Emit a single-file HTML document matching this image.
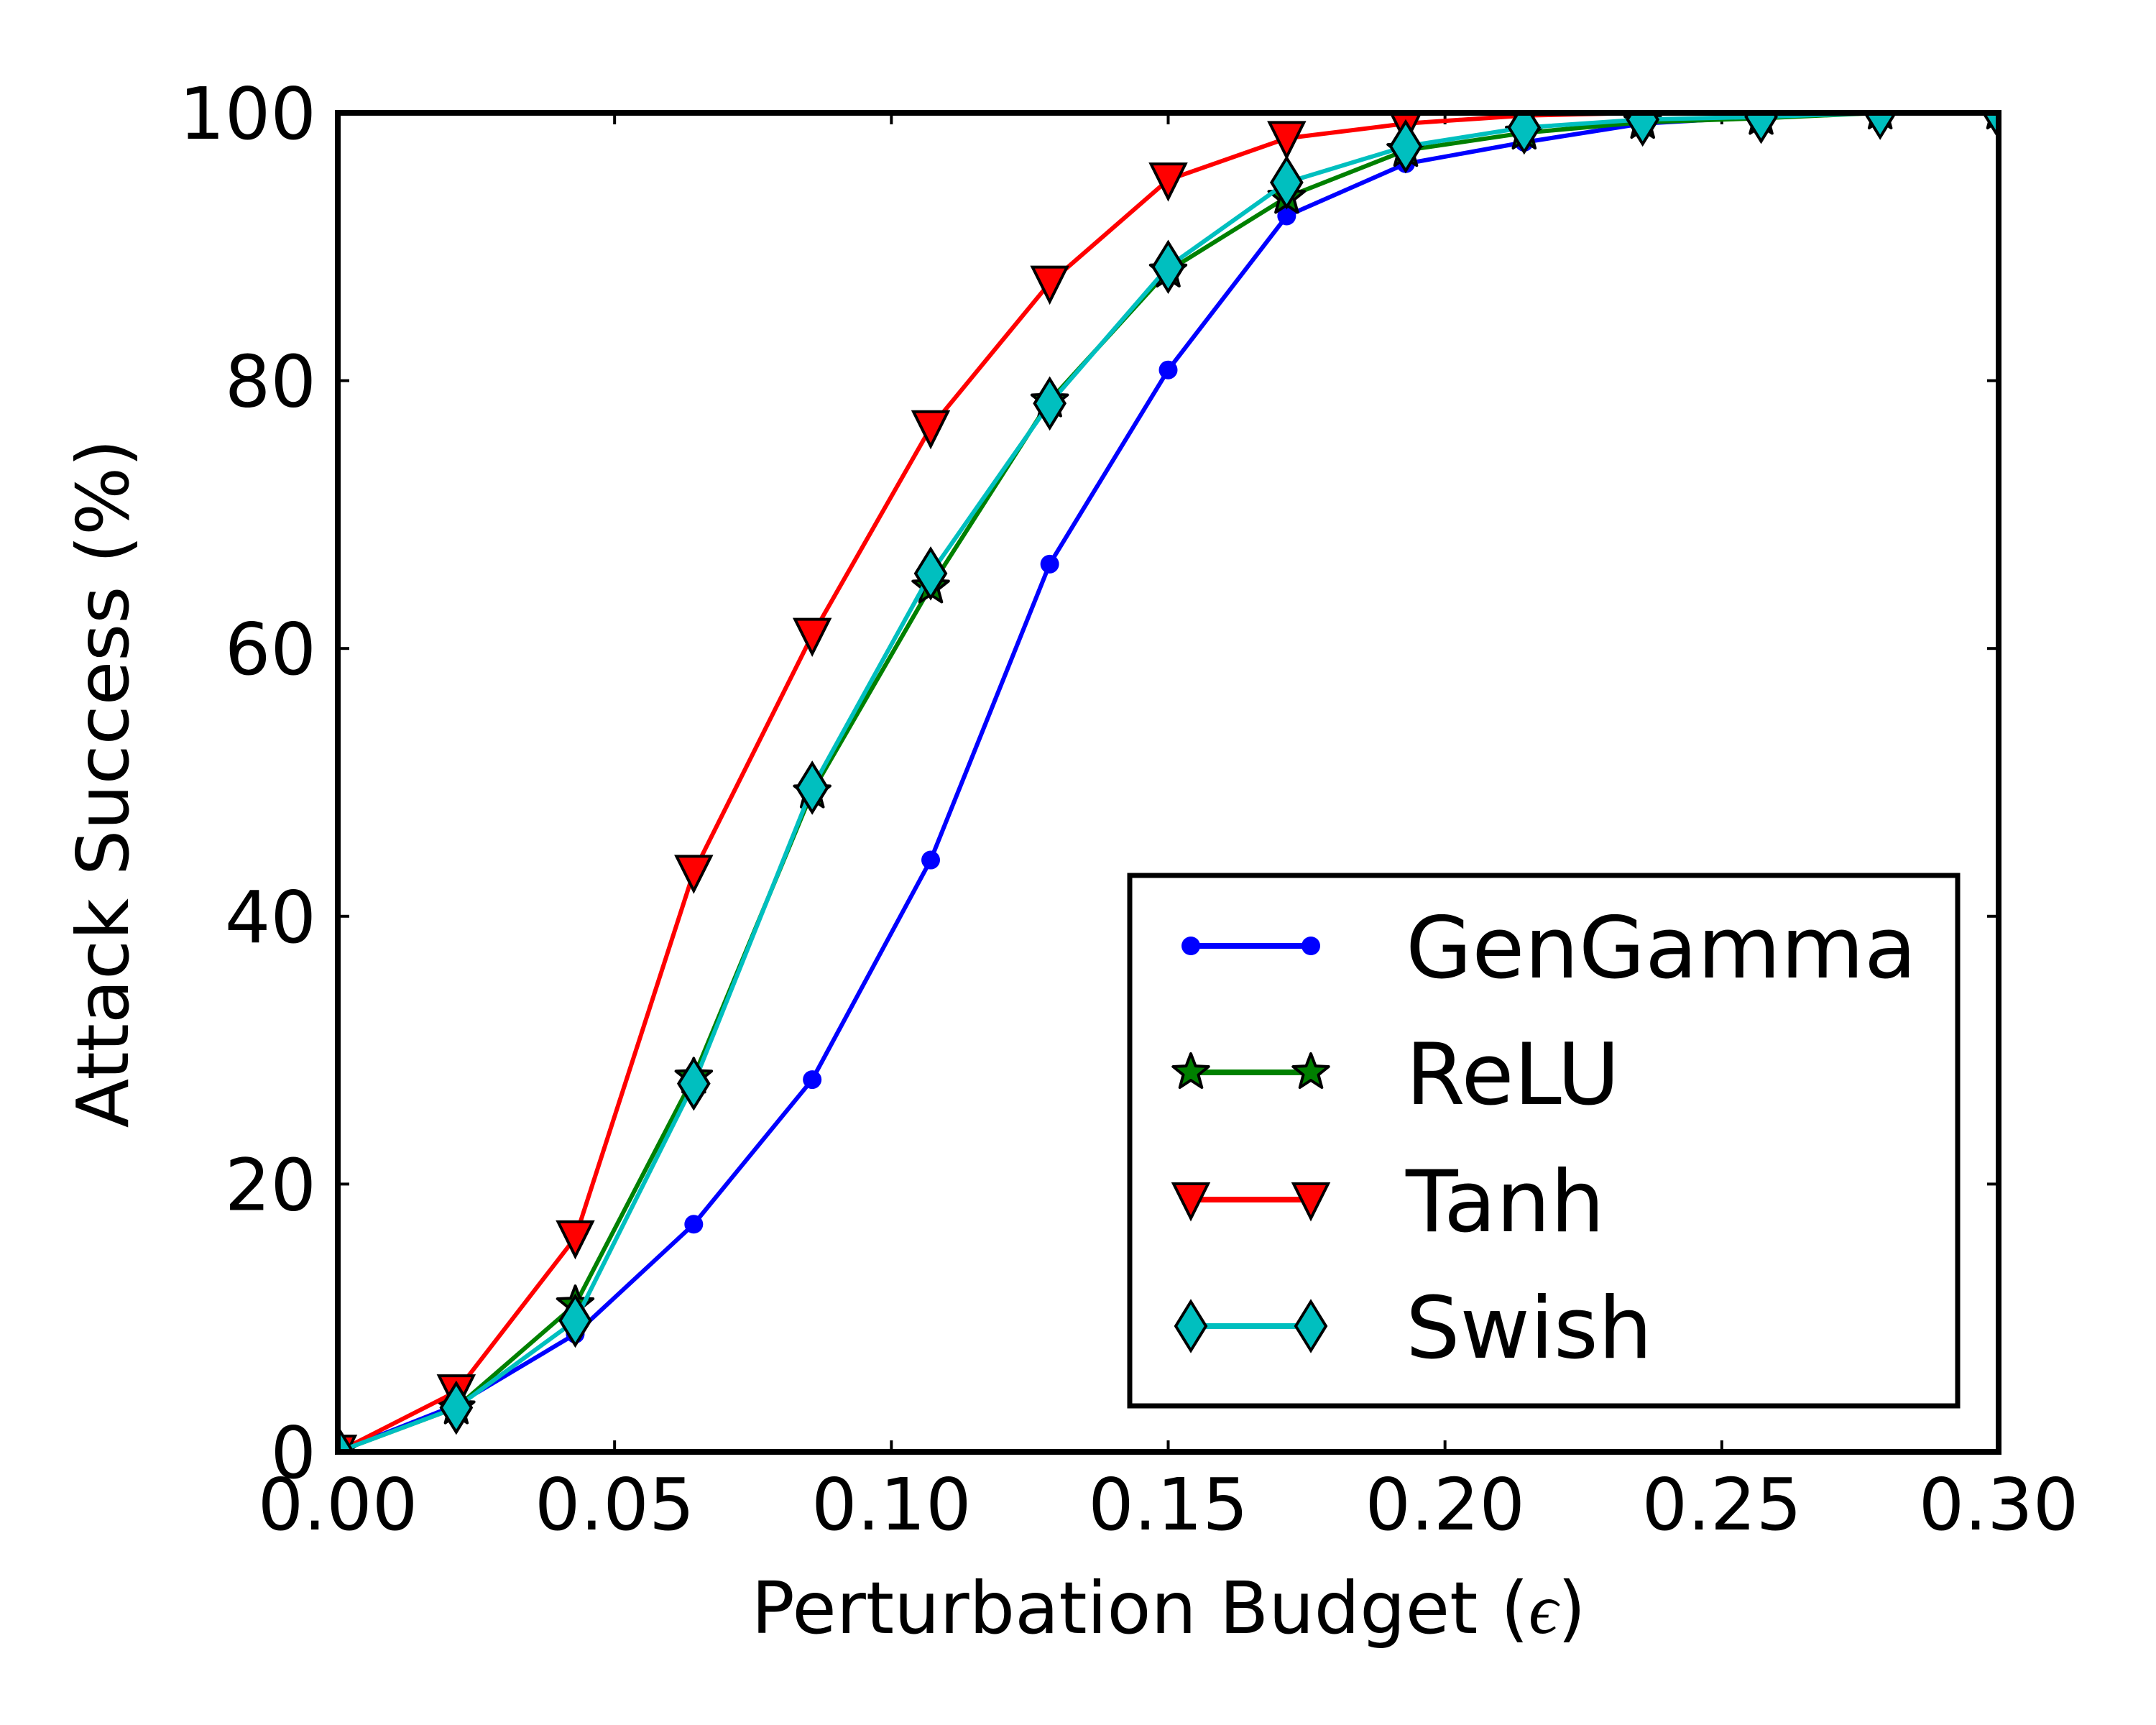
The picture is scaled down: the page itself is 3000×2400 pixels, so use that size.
<!DOCTYPE html>
<html><head><meta charset="utf-8"><style>
html,body{margin:0;padding:0;background:#fff}
svg{display:block}
text{font-family:"DejaVu Sans","Liberation Sans",sans-serif;fill:#000}
</style></head><body>
<svg id="chart" width="3000" height="2400" viewBox="0 0 3000 2400" xmlns="http://www.w3.org/2000/svg">
<defs><clipPath id="plotclip"><rect x="470" y="157" width="2311" height="1863"/></clipPath></defs>
<rect width="3000" height="2400" fill="#fff"/>
<g id="ticks"></g>
<g id="series" clip-path="url(#plotclip)"></g>
<rect x="470" y="157" width="2311" height="1863" fill="none" stroke="#000" stroke-width="8"/>
<text x="1626" y="2272" font-size="100" text-anchor="middle">Perturbation Budget (<tspan font-family="Liberation Serif,serif" font-style="italic">ϵ</tspan>)</text>
<text x="0" y="0" font-size="100" text-anchor="middle" transform="translate(178,1090) rotate(-90)">Attack Success (%)</text>
<g id="legend">
<rect x="1572" y="1218" width="1152" height="738" fill="#fff" stroke="#000" stroke-width="7"/>
</g>
</svg>
<script>
const xValues = [0, 0.0214, 0.0429, 0.0643, 0.0857, 0.1071, 0.1286, 0.15, 0.1714, 0.1929, 0.2143, 0.2357, 0.2571, 0.2786, 0.3];
const genGamma = [0, 3.5, 8.8, 17, 27.8, 44.2, 66.3, 80.8, 92.3, 96.2, 97.8, 99.2, 99.7, 100, 100];
const relu = [0, 3.3, 11, 28, 49.3, 64.6, 78.5, 88.2, 93.7, 97.2, 98.5, 99.3, 99.6, 100, 100];
const tanh = [0, 4.5, 16, 43.3, 61, 76.5, 87.3, 95, 98.1, 99.2, 99.8, 100, 100, 100, 100];
const swish = [0, 3.3, 9.8, 27.5, 49.6, 65.6, 78.3, 88.5, 94.8, 97.5, 98.9, 99.5, 99.7, 100, 100];
const xTicks = [0, 0.05, 0.10, 0.15, 0.20, 0.25, 0.30];
const xTickLabels = ["0.00", "0.05", "0.10", "0.15", "0.20", "0.25", "0.30"];
const yTicks = [0, 20, 40, 60, 80, 100];
const yTickLabels = ["0", "20", "40", "60", "80", "100"];
const seriesNames = ["GenGamma", "ReLU", "Tanh", "Swish"];

const NS = "http://www.w3.org/2000/svg";
const X0 = 470, X1 = 2781, Y0 = 2020, Y1 = 157;
function sx(v){ return X0 + (v - 0) / 0.3 * (X1 - X0); }
function sy(v){ return Y0 - v / 100 * (Y0 - Y1); }
function mk(tag, attrs, parent){
  const e = document.createElementNS(NS, tag);
  for (const k in attrs) e.setAttribute(k, attrs[k]);
  parent.appendChild(e);
  return e;
}
const ticks = document.getElementById("ticks");
xTicks.forEach((t, i) => {
  const x = sx(t);
  let l = mk("line", {x1:x, x2:x, y1:Y0, y2:Y0-16, stroke:"#000", "stroke-width":4}, ticks);
  
  
  l = mk("line", {x1:x, x2:x, y1:Y1, y2:Y1+16, stroke:"#000", "stroke-width":4}, ticks);
  
  
  const tx = mk("text", {x:x, y:2128, "font-size":100, "text-anchor":"middle"}, ticks);
  tx.textContent = xTickLabels[i];
  
  
});
yTicks.forEach((t, i) => {
  const y = sy(t);
  let l = mk("line", {x1:X0, x2:X0+16, y1:y, y2:y, stroke:"#000", "stroke-width":4}, ticks);
  
  
  l = mk("line", {x1:X1, x2:X1-16, y1:y, y2:y, stroke:"#000", "stroke-width":4}, ticks);
  
  
  const tx = mk("text", {x:440, y:y+36, "font-size":100, "text-anchor":"end"}, ticks);
  tx.textContent = yTickLabels[i];
  
  
});

function marker(kind, x, y, color, parent){
  let e;
  if (kind === "circle") {
    e = mk("circle", {cx:x, cy:y, r:13, fill:color}, parent);
  } else if (kind === "star") {
    const pts = [];
    for (let k = 0; k < 10; k++) {
      const r = k % 2 ? 11 : 26;
      const a = -Math.PI/2 + k * Math.PI/5;
      pts.push((x + r*Math.cos(a)).toFixed(1) + "," + (y + r*Math.sin(a)).toFixed(1));
    }
    e = mk("polygon", {points:pts.join(" "), fill:color, stroke:"#000", "stroke-width":4, "stroke-linejoin":"round"}, parent);
  } else if (kind === "tri") {
    e = mk("polygon", {points:`${x-24},${y-22} ${x+24},${y-22} ${x},${y+26}`, fill:color, stroke:"#000", "stroke-width":4}, parent);
  } else {
    e = mk("polygon", {points:`${x},${y-34} ${x+21},${y} ${x},${y+34} ${x-21},${y}`, fill:color, stroke:"#000", "stroke-width":4}, parent);
  }
  
  
}

const seriesDefs = [
  {name: seriesNames[0], data: genGamma, color:"#0000ff", kind:"circle"},
  {name: seriesNames[1], data: relu, color:"#008000", kind:"star"},
  {name: seriesNames[2], data: tanh, color:"#ff0000", kind:"tri"},
  {name: seriesNames[3], data: swish, color:"#00bfbf", kind:"diamond"}
];
const sg = document.getElementById("series");
seriesDefs.forEach(s => {
  const g = mk("g", {}, sg);
  
  
  const pts = s.data.map((v, i) => sx(xValues[i]).toFixed(1) + "," + sy(v).toFixed(1)).join(" ");
  const pl = mk("polyline", {points:pts, fill:"none", stroke:s.color, "stroke-width":6, "stroke-linejoin":"round"}, g);
  
  
  s.data.forEach((v, i) => marker(s.kind, sx(xValues[i]), sy(v), s.color, g));
});

const lg = document.getElementById("legend");
const rowsY = [1316, 1492, 1669, 1845];
seriesDefs.forEach((s, i) => {
  const g = mk("g", {}, lg);
  
  
  const y = rowsY[i];
  const l = mk("line", {x1:1657, x2:1824, y1:y, y2:y, stroke:s.color, "stroke-width":8}, g);
  
  
  marker(s.kind, 1657, y, s.color, g);
  marker(s.kind, 1824, y, s.color, g);
  const t = mk("text", {x:1956, y:y+44, "font-size":119}, g);
  t.textContent = s.name;
  
  
});
</script>
</body></html>
